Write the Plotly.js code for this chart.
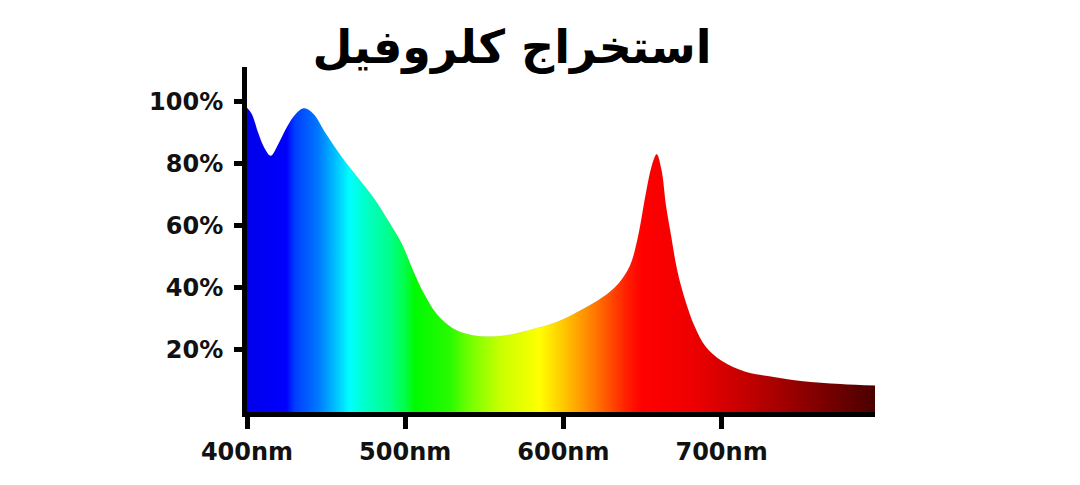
<!DOCTYPE html>
<html>
<head>
<meta charset="utf-8">
<script src="https://cdn.plot.ly/plotly-3.0.1.min.js"></script>
<style>html,body{margin:0;padding:0;background:#fff;}#chart{width:1080px;height:485px;}</style>
</head>
<body>
<div id="chart"></div>
<script>
// Absorption curve (wavelength in nm, absorbance in %)
var wavelength = [400, 403, 407, 411, 415, 420, 425, 430, 436, 442, 450, 460, 470, 480, 490, 498, 505, 512, 520, 530, 540, 550, 565, 580, 595, 610, 625, 635, 642, 647, 652, 656, 659, 662, 665, 668, 672, 677, 683, 690, 700, 715, 730, 750, 775, 797];
var absorbance = [98, 96, 90, 85, 82.5, 86.5, 91.5, 95.5, 97.8, 96, 89.5, 82, 75.5, 69, 61, 54, 45.5, 38, 31.5, 27, 25, 24.3, 24.8, 26.6, 28.8, 32.5, 37, 41.5, 47, 56, 70, 79.5, 83, 78, 66, 57, 45.5, 36, 27.5, 21, 16.5, 13, 11.5, 10, 9, 8.5];

// Spectrum colours across the wavelength axis
var colorNm = [400, 425, 430, 445, 460, 465, 475, 490, 500, 506, 528, 540, 560, 585, 600, 620, 640, 650, 680, 720, 760, 800];
var colorVal = ['rgb(0,0,235)', 'rgb(0,0,255)', 'rgb(0,60,255)', 'rgb(0,120,255)', 'rgb(0,220,255)', 'rgb(0,255,255)', 'rgb(0,255,200)', 'rgb(0,255,140)', 'rgb(0,255,70)', 'rgb(0,250,0)', 'rgb(40,250,0)', 'rgb(110,255,0)', 'rgb(200,255,0)', 'rgb(255,255,0)', 'rgb(255,200,0)', 'rgb(255,120,0)', 'rgb(255,30,0)', 'rgb(255,0,0)', 'rgb(240,0,0)', 'rgb(190,0,0)', 'rgb(130,0,0)', 'rgb(70,0,0)'];

var xTickVals = [400, 500, 600, 700];
var xTickText = ['400nm', '500nm', '600nm', '700nm'];
var yTickVals = [20, 40, 60, 80, 100];
var yTickText = ['20%', '40%', '60%', '80%', '100%'];

var titleText = 'استخراج كلروفيل';

var gStart = 400, gStop = 800;
var colorscale = colorNm.map(function (nm, i) {
  return [(nm - gStart) / (gStop - gStart), colorVal[i]];
});

var trace = {
  x: wavelength,
  y: absorbance,
  type: 'scatter',
  mode: 'lines',
  line: {shape: 'spline', smoothing: 1, width: 0.5, color: 'rgba(0,0,0,0.1)'},
  fill: 'tozeroy',
  fillgradient: {type: 'horizontal', colorscale: colorscale, start: gStart, stop: gStop},
  hoverinfo: 'skip'
};

var tickFont = {family: 'DejaVu Sans', size: 24, color: '#111', weight: 'bold'};

var layout = {
  width: 1080,
  height: 485,
  margin: {l: 247, r: 205, t: 67, b: 73},
  paper_bgcolor: '#fff',
  plot_bgcolor: '#fff',
  showlegend: false,
  title: {
    text: titleText,
    font: {family: 'DejaVu Sans', size: 46, color: '#000', weight: 'bold'},
    x: 512 / 1080,
    xanchor: 'center',
    xref: 'container',
    yref: 'container',
    y: 1 - 47 / 485,
    yanchor: 'middle'
  },
  xaxis: {
    range: [400, 797],
    showgrid: false,
    zeroline: false,
    showline: true,
    linecolor: '#000',
    linewidth: 5,
    ticks: 'outside',
    ticklen: 12,
    tickwidth: 5,
    tickcolor: '#000',
    tickvals: xTickVals,
    ticktext: xTickText,
    tickfont: tickFont,
    ticklabelstandoff: 2
  },
  yaxis: {
    range: [0, 111.1],
    showgrid: false,
    zeroline: false,
    showline: true,
    linecolor: '#000',
    linewidth: 5,
    ticks: 'outside',
    ticklen: 8,
    tickwidth: 5,
    tickcolor: '#000',
    tickvals: yTickVals,
    ticktext: yTickText,
    tickfont: tickFont,
    ticklabelstandoff: 6
  }
};

Plotly.newPlot('chart', [trace], layout, {displayModeBar: false, staticPlot: true});
</script>
</body>
</html>
